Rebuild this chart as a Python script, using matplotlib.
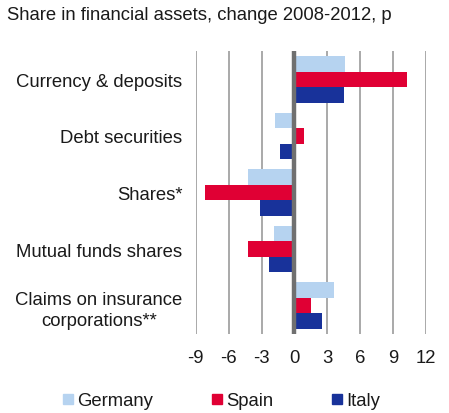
import matplotlib
matplotlib.use("Agg")
import matplotlib.pyplot as plt
import numpy as np

plt.rcParams['font.family'] = ['Liberation Sans', 'DejaVu Sans']

categories = ["Currency & deposits", "Debt securities", "Shares*",
              "Mutual funds shares", "Claims on insurance\ncorporations**"]
series_names = ["Germany", "Spain", "Italy"]
germany = [4.6, -1.8, -4.2, -1.9, 3.6]
spain = [10.3, 0.9, -8.2, -4.2, 1.5]
italy = [4.5, -1.35, -3.1, -2.3, 2.5]
xticks = [-9, -6, -3, 0, 3, 6, 9, 12]
title = "Share in financial assets, change 2008-2012, p"

colors = ["#B6D3F0", "#E00034", "#18329A"]
fs = 13.3

fig = plt.figure(figsize=(4.49, 4.14), dpi=100)
ax = fig.add_axes([0.436, 0.191, 0.513, 0.683])

y = np.arange(len(categories))
h = 0.273
for i, (vals, c, name) in enumerate(zip([germany, spain, italy], colors, series_names)):
    ax.barh(y + (i - 1) * h, vals, height=h, color=c, label=name, zorder=2)

ax.set_xlim(-9, 12)
ax.set_ylim(4.5, -0.5)
ax.set_xticks(xticks)
ax.set_xticklabels([str(t) for t in xticks], fontsize=fs, color="#1a1a1a")
ax.set_yticks(y)
ax.set_yticklabels(categories, fontsize=fs, color="#1a1a1a", multialignment="center",
                   linespacing=1.3)
ax.tick_params(axis='x', length=0, pad=11)
ax.tick_params(axis='y', length=0, pad=9.5)
for s in ax.spines.values():
    s.set_visible(False)
for t in xticks:
    if t != 0:
        ax.axvline(t, color="#A2A2A2", lw=1.3, zorder=1)
ax.axvline(0, color="#707070", lw=3.2, zorder=3)

fig.text(0.015, 0.962, title, fontsize=fs, color="#1a1a1a", va="center", ha="left")

handles = [plt.Rectangle((0, 0), 1, 1, color=c) for c in colors]
fig.legend(handles, series_names, loc="center", bbox_to_anchor=(0.494, 0.029), ncol=3,
           frameon=False, fontsize=fs, handlelength=0.5, handleheight=0.5,
           handletextpad=0.25, columnspacing=3.2, labelcolor="#1a1a1a",
           borderpad=0, borderaxespad=0)

fig.savefig("out.png", dpi=100)
